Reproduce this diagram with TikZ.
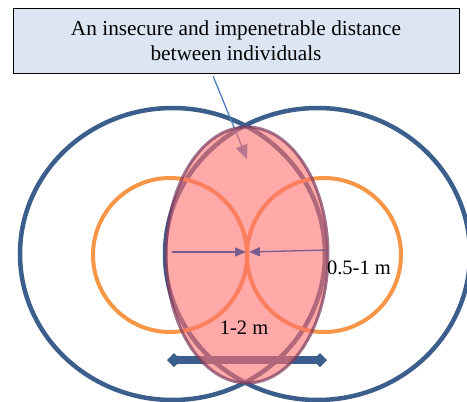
\documentclass[tikz,border=0pt]{standalone}
\usepackage{fontspec}
\setmainfont{Liberation Serif}
\usetikzlibrary{arrows.meta}
\definecolor{zoneblue}{HTML}{3B5E8C}
\definecolor{boxfill}{HTML}{DCE6F2}
\definecolor{ringorange}{HTML}{F79646}
\definecolor{lenspink}{HTML}{FF6F6F}
\definecolor{lensedge}{HTML}{7A3A5E}
\definecolor{gaparrow}{HTML}{7B5C8E}
\definecolor{calloutblue}{HTML}{4F81BD}
\tikzset{
            zone/.style={draw=zoneblue,line width=4.5pt},
            ring/.style={draw=ringorange,line width=4pt},
            lens/.style={fill=lenspink,fill opacity=0.6,draw=lensedge,draw opacity=0.7,line width=3pt},
            gap/.style={draw=gaparrow,line width=1.3pt,-{Triangle[length=11pt,width=9pt]}},
            label/.style={font=\fontsize{20.5}{24}\selectfont,inner sep=0pt}
        }

\begin{document}
\begin{tikzpicture}[x=1pt,y=-1pt]
                \useasboundingbox (0,0) rectangle (467,402);
                \draw[zone] (172.5,254) ellipse [x radius=152.5,y radius=146];
                \draw[zone] (317.5,254) ellipse [x radius=152.5,y radius=146];
                \draw[ring] (170,255) circle [radius=77];
                \draw[ring] (324,255) circle [radius=77];
                \draw[zoneblue,line width=8pt,{Diamond[length=14pt,width=14pt]}-{Diamond[length=14pt,width=14pt]}]
                    (167,360) coordinate (near) -- (327,360) coordinate (far);
                \node[draw=black,line width=1pt,fill=boxfill,minimum width=446pt,minimum height=65pt,
                      align=center,font=\fontsize{21.3}{25}\selectfont] (box) at (236,40.5)
                    {An insecure and impenetrable distance\\between individuals};
                \coordinate (callout) at (247,159);
                \draw[calloutblue,line width=1.3pt,-{Triangle[length=14pt,width=12pt]},shorten <=3pt]
                    ([xshift=-24pt]box.south) -- (callout);
                \draw[lens] (247,255) ellipse [x radius=81,y radius=128];
                \coordinate (leftedge) at (172,252);
                \coordinate (rightedge) at (327,250);
                \coordinate (middle) at (247,252);
                \draw[gap] (leftedge) -- ([xshift=-1pt]middle);
                \draw[gap] (rightedge) -- ([xshift=2pt]middle);
                \node[label] (personal) at (359,268) {0.5-1 m};
                \node[label] (social) at (244,328) {1-2 m};
            \end{tikzpicture}
\end{document}
